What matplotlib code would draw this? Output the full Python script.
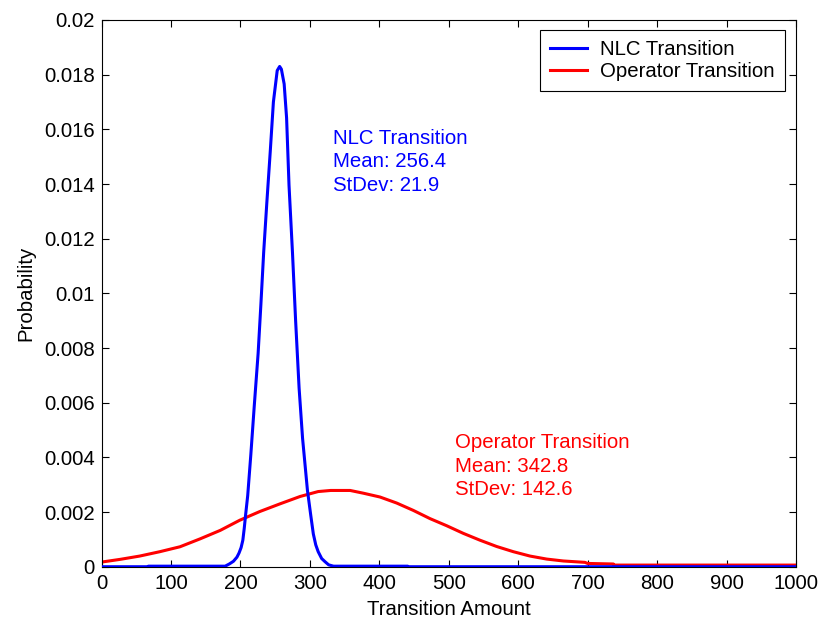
import matplotlib
matplotlib.use("Agg")
import matplotlib.pyplot as plt

plt.rcParams['font.family'] = ['Liberation Sans', 'DejaVu Sans']

# values
nlc_x = [0, 67, 67.5, 178, 184, 190, 195, 198, 201, 203.5, 205.5, 207.5, 210.5,
         215, 220, 225.5, 229.5, 233.5, 238, 243, 247.5, 253, 256.5, 259, 263,
         266.5, 270, 275, 279.5, 284.5, 289.5, 296.5, 301.2, 305, 308.5, 312,
         317, 322, 327, 334, 441, 442, 1000]
nlc_y = [0, 0, 0.00002, 0.00002, 0.0001, 0.0002, 0.00035, 0.0005, 0.0007, 0.00097,
         0.0014, 0.0019, 0.0026, 0.0041, 0.0059, 0.0078, 0.0096, 0.0115, 0.0133,
         0.0152, 0.0170, 0.01815, 0.0183, 0.0182, 0.01766, 0.01642, 0.01395,
         0.01148, 0.0090, 0.00654, 0.0047, 0.0028, 0.0019, 0.0012, 0.0008,
         0.00055, 0.0003, 0.00018, 0.00007, 0.00002, 0.00002, 0, 0]

op_x = [0, 27, 55, 84, 113, 142, 171, 199, 228, 257, 286, 312, 330, 358, 377,
        401, 425, 449, 473, 497, 521, 545, 569, 593, 617, 641, 665, 696, 700,
        737, 738, 1000]
op_y = [0.00017, 0.00027, 0.00039, 0.00055, 0.00073, 0.00102, 0.00133, 0.0017,
        0.00202, 0.0023, 0.00257, 0.00275, 0.00279, 0.00279, 0.00269, 0.00255,
        0.00233, 0.00206, 0.00176, 0.00150, 0.00122, 0.00097, 0.00074, 0.00055,
        0.00039, 0.00028, 0.00021, 0.00016, 0.00012, 0.0001, 0.00006, 0.00006]

x_ticks = [0, 100, 200, 300, 400, 500, 600, 700, 800, 900, 1000]
y_ticks = [0, 0.002, 0.004, 0.006, 0.008, 0.01, 0.012, 0.014, 0.016, 0.018, 0.02]
y_labels = ['0', '0.002', '0.004', '0.006', '0.008', '0.01', '0.012', '0.014',
            '0.016', '0.018', '0.02']

nlc_text = "NLC Transition\nMean: 256.4\nStDev: 21.9"
op_text = "Operator Transition\nMean: 342.8\nStDev: 142.6"

fs = 14.7
fig = plt.figure(figsize=(8.2, 6.21), dpi=100)
ax = fig.add_axes([0.1238, 0.0874, 0.8469, 0.8804])

ax.plot(op_x, op_y, color='#ff0000', lw=2.2, label='Operator Transition', zorder=2)
ax.plot(nlc_x, nlc_y, color='#0000ff', lw=2.2, label='NLC Transition', zorder=3)

ax.text(333, 0.01602, nlc_text, color='#0000ff', fontsize=fs, va='top', ha='left',
        linespacing=1.3)
ax.text(509, 0.00488, op_text, color='#ff0000', fontsize=fs, va='top', ha='left',
        linespacing=1.3)

ax.set_xlim(0, 1000)
ax.set_ylim(0, 0.02)
ax.set_xticks(x_ticks)
ax.set_xticklabels([str(t) for t in x_ticks])
ax.set_yticks(y_ticks)
ax.set_yticklabels(y_labels)
ax.tick_params(direction='in', length=5, width=0.8, top=True, right=True,
               labelsize=fs, pad=5, colors='black')
for s in ax.spines.values():
    s.set_linewidth(0.8)
    s.set_color('black')

ax.set_xlabel('Transition Amount', fontsize=fs, labelpad=5)
ax.set_ylabel('Probability', fontsize=fs, labelpad=6)

h, l = ax.get_legend_handles_labels()
leg = ax.legend(h[::-1], l[::-1], loc='upper right', bbox_to_anchor=(0.9841, 0.9817),
                borderaxespad=0, fontsize=fs, fancybox=False, framealpha=1,
                edgecolor='black', handlelength=1.8, handletextpad=0.64,
                labelspacing=0.15, borderpad=0.5)
leg.get_frame().set_linewidth(0.8)

fig.savefig('out.png', dpi=100)
